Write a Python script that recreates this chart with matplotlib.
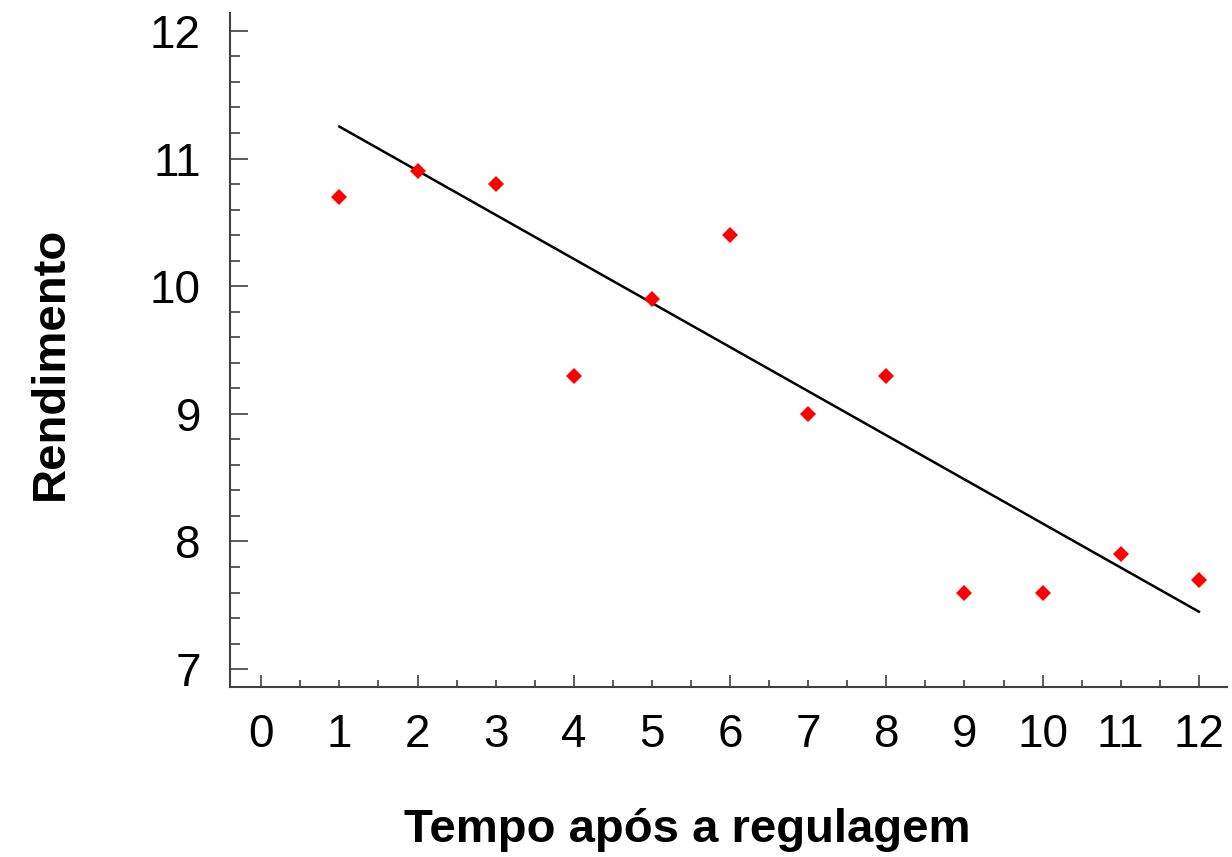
import matplotlib.pyplot as plt
from matplotlib.ticker import MultipleLocator

plt.rcParams['font.family'] = ['Liberation Sans', 'DejaVu Sans']

# observed yield per time step
tempo = [1, 2, 3, 4, 5, 6, 7, 8, 9, 10, 11, 12]
rendimento = [10.7, 10.9, 10.8, 9.3, 9.9, 10.4, 9.0, 9.3, 7.6, 7.6, 7.9, 7.7]

# trend line as drawn in the original
linha_x = [1, 12]
linha_y = [11.25, 7.45]

xticks = list(range(0, 13))
yticks = [7, 8, 9, 10, 11, 12]

fig = plt.figure(figsize=(12.32, 8.57), dpi=100)
ax = fig.add_axes([230 / 1232, 170 / 857, 997 / 1232, 674 / 857])

ax.plot(linha_x, linha_y, color='black', linewidth=1.8, zorder=2)
ax.plot(tempo, rendimento, linestyle='none', marker='D', markersize=8.5,
        color='#ff0000', markeredgewidth=0, zorder=3)

ax.set_xlim(-0.4, 12.36)
ax.set_ylim(6.86, 12.14)

ax.set_xticks(xticks)
ax.set_yticks(yticks)
ax.xaxis.set_minor_locator(MultipleLocator(0.5))
ax.yaxis.set_minor_locator(MultipleLocator(0.2))

for s in ['top', 'right']:
    ax.spines[s].set_visible(False)
for s in ['left', 'bottom']:
    ax.spines[s].set_color('#404040')
    ax.spines[s].set_linewidth(1.5)

ax.tick_params(axis='both', which='both', direction='in', color='#404040',
               width=1.2, labelsize=33)
ax.tick_params(axis='x', which='major', length=5, pad=19)
ax.tick_params(axis='x', which='minor', length=5)
ax.tick_params(axis='y', which='major', length=13, pad=21)
ax.tick_params(axis='y', which='minor', length=7)

# longer marks at even times only
for val, tick in zip(xticks, ax.xaxis.get_major_ticks()):
    if val % 2 == 0:
        tick.tick1line.set_markersize(9)

fig.text(687 / 1232, 1 - 830 / 857, 'Tempo após a regulagem', ha='center',
         va='center', fontsize=34, fontweight='bold')
fig.text(51 / 1232, 1 - 363 / 857, 'Rendimento', ha='center', va='center',
         rotation=90, fontsize=34, fontweight='bold')

fig.savefig('out.png', dpi=100)
